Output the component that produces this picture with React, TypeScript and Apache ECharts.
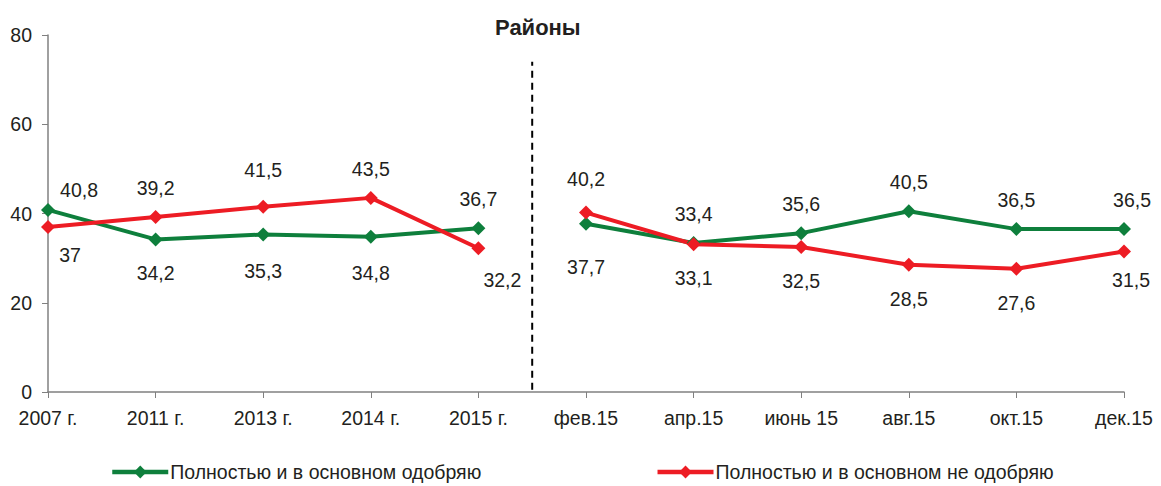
import React, { useEffect, useRef } from "react";
import * as echarts from "echarts";

const categories = ["2007 г.", "2011 г.", "2013 г.", "2014 г.", "2015 г.", "фев.15", "апр.15", "июнь 15", "авг.15", "окт.15", "дек.15"];
const approve = [40.8, 34.2, 35.3, 34.8, 36.7, 37.7, 33.4, 35.6, 40.5, 36.5, 36.5];
const disapprove = [37, 39.2, 41.5, 43.5, 32.2, 40.2, 33.1, 32.5, 28.5, 27.6, 31.5];
const approveName = "Полностью и в основном одобряю";
const disapproveName = "Полностью и в основном не одобряю";
const yTicks = [0, 20, 40, 60, 80];
const splitAfter = 4; // last index of the yearly part
const dividerAt = 4.5;
const dividerRange = [0.5, 74];

// label placement (layout only)
const approvePos = ["top", "bottom", "bottom", "bottom", "top", "bottom", "top", "top", "top", "top", "top"];
const disapprovePos = ["bottom", "top", "top", "top", "bottom", "top", "bottom", "bottom", "bottom", "bottom", "bottom"];
const approveOffset: Record<number, number[]> = { 0: [31, 9], 2: [0, 3], 3: [0, 2], 5: [0, 9], 10: [8, 0] };
const disapproveOffset: Record<number, number[]> = { 0: [22, -6], 2: [0, -8], 4: [24, -2], 5: [0, -5], 10: [7, -5] };

const GREEN = "#0e7f3c";
const RED = "#ed1c24";
const TEXT = "#231f20";
const FONT = "'Liberation Sans', Arial, sans-serif";
const FS = 19.5;

function buildData(values: number[], pos: string[], offs: Record<number, number[]>, part: 0 | 1) {
  return values.map((v, i) => {
    const inPart = part === 0 ? i <= splitAfter : i > splitAfter;
    if (!inPart) return "-";
    return {
      value: v,
      label: {
        position: pos[i],
        distance: pos[i] === "top" ? 12 : 17,
        offset: offs[i] || [0, 0],
      },
    };
  });
}

export default function App() {
  const ref = useRef<HTMLDivElement>(null);
  useEffect(() => {
    if (!ref.current) return;
    const chart = echarts.init(ref.current, null, { renderer: "svg" });
    const label = {
      show: true,
      color: TEXT,
      fontSize: FS,
      fontFamily: FONT,
      formatter: (p: any) => String(p.value).replace(".", ","),
    };
    const mk = (name: string, color: string, data: any[]) => ({
      name,
      type: "line",
      data,
      symbol: "diamond",
      symbolSize: 14,
      itemStyle: { color },
      lineStyle: { color, width: 4 },
      label,
      connectNulls: false,
    });
    chart.setOption({
      animation: false,
      title: {
        text: "Районы",
        left: 490,
        top: 11,
        textStyle: { fontFamily: FONT, fontSize: 22, fontWeight: "bold", color: TEXT },
      },
      grid: { left: 48, right: 37, top: 35, bottom: 94, containLabel: false },
      legend: {
        data: [approveName, disapproveName],
        left: 105,
        top: 457,
        itemWidth: 56,
        itemHeight: 16,
        itemGap: 174,
        lineStyle: { width: 4.5 },
        textStyle: { fontFamily: FONT, fontSize: FS, color: TEXT, padding: [0, 0, 0, -3] },
      },
      xAxis: [
        {
          type: "category",
          data: categories,
          boundaryGap: false,
          axisLine: { lineStyle: { color: "#808080", width: 1.5 } },
          axisTick: { show: true, length: 6, lineStyle: { color: "#808080" } },
          axisLabel: { color: TEXT, fontSize: FS, fontFamily: FONT, margin: 16 },
        },
        { type: "value", min: 0, max: categories.length - 1, show: false },
      ],
      yAxis: {
        type: "value",
        min: yTicks[0],
        max: yTicks[yTicks.length - 1],
        interval: 20,
        splitLine: { show: false },
        axisLine: { show: true, lineStyle: { color: "#808080", width: 1.5 } },
        axisTick: { show: true, length: 6, lineStyle: { color: "#808080" } },
        axisLabel: { color: TEXT, fontSize: FS, fontFamily: FONT, margin: 16 },
      },
      series: [
        mk(approveName, GREEN, buildData(approve, approvePos, approveOffset, 0)),
        mk(approveName, GREEN, buildData(approve, approvePos, approveOffset, 1)),
        mk(disapproveName, RED, buildData(disapprove, disapprovePos, disapproveOffset, 0)),
        mk(disapproveName, RED, buildData(disapprove, disapprovePos, disapproveOffset, 1)),
        {
          name: "divider",
          type: "line",
          xAxisIndex: 1,
          data: [[dividerAt, dividerRange[0]], [dividerAt, dividerRange[1]]],
          symbol: "none",
          lineStyle: { color: "#000", width: 2, type: [7, 5] },
          silent: true,
        },
      ],
    });
    return () => chart.dispose();
  }, []);
  return <div ref={ref} style={{ width: 1161, height: 486, position: "absolute", left: 0, top: 0 }} />;
}
